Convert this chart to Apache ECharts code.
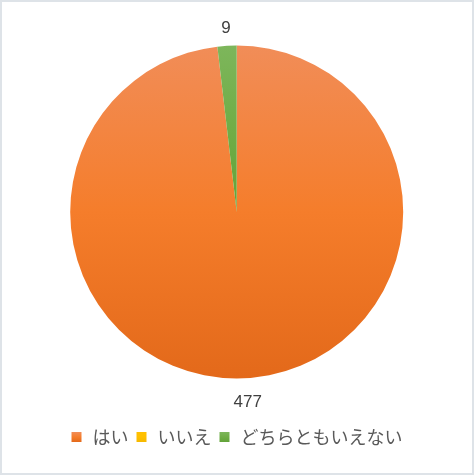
<!DOCTYPE html>
<html>
<head>
<meta charset="utf-8">
<script src="https://cdn.jsdelivr.net/npm/echarts@6/dist/echarts.min.js"></script>
<style>
html,body{margin:0;padding:0;background:#fff;}
#chart{position:absolute;left:0;top:0;width:474px;height:475px;}
#frame{position:absolute;left:0;top:0;width:470px;height:471px;border:2px solid #DEE3E8;pointer-events:none;}
</style>
</head>
<body>
<div id="chart"></div>
<div id="frame"></div>
<script>
const categories = ['はい', 'いいえ', 'どちらともいえない'];
const values = [477, 0, 9];
const colorsTop = ['#F18D58', '#FFC000', '#7DB65B'];
const colorsMid = ['#F57D2B', '#FFC000', '#70AD47'];
const colorsBottom = ['#E3691A', '#F5B800', '#62A339'];
const labelOffsets = [24, 0, 17];

const chart = echarts.init(document.getElementById('chart'));
const data = categories.map((name, i) => ({
  name: name,
  value: values[i],
  labelLine: { show: false, length: labelOffsets[i], length2: 0 },
  itemStyle: {
    color: new echarts.graphic.LinearGradient(0, 0, 0, 1, [
      { offset: 0, color: colorsTop[i] },
      { offset: 0.5, color: colorsMid[i] },
      { offset: 1, color: colorsBottom[i] }
    ])
  }
}));

chart.setOption({
  animation: false,
  legend: {
    data: categories,
    bottom: 24,
    left: 'center',
    itemWidth: 10,
    itemHeight: 10,
    itemGap: 8,
    icon: 'rect',
    textStyle: {
      fontFamily: 'Noto Sans CJK JP',
      fontSize: 18,
      color: '#595959',
      padding: [0, 0, 0, 6]
    }
  },
  series: [{
    type: 'pie',
    center: [236.7, 212],
    radius: 166.5,
    startAngle: 90,
    clockwise: true,
    avoidLabelOverlap: false,
    minShowLabelAngle: 0.5,
    stillShowZeroSum: true,
    data: data,
    itemStyle: { borderWidth: 0 },
    emphasis: { disabled: true },
    label: {
      show: true,
      position: 'outside',
      formatter: '{c}',
      fontFamily: '"Liberation Sans", sans-serif',
      fontSize: 17,
      color: '#404040',
      distanceToLabelLine: 0
    },
    labelLine: { show: false, length: 22, length2: 0 },
    labelLayout: function () {
      return { align: 'center', verticalAlign: 'middle' };
    }
  }]
});
</script>
</body>
</html>
